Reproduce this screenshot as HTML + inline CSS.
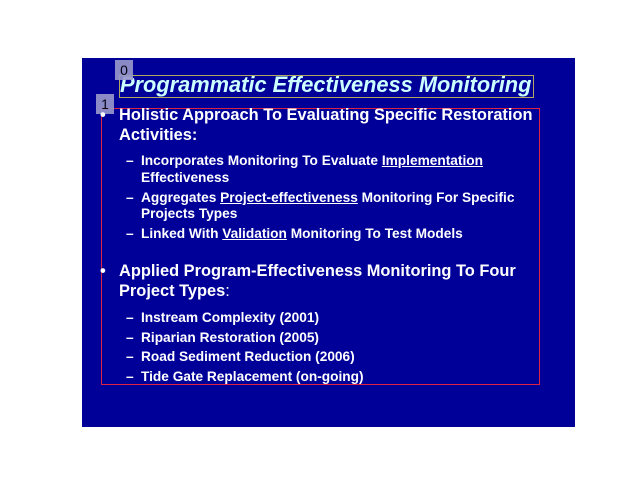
<!DOCTYPE html>
<html><head><meta charset="utf-8"><style>
body{margin:0;width:640px;height:480px;background:#fff;position:relative;overflow:hidden;font-family:"Liberation Sans",sans-serif}
#slide{position:absolute;left:82px;top:58px;width:493px;height:369px;background:#000099}
.t{position:absolute;white-space:nowrap;color:#fff;font-weight:bold;line-height:1}
.m{font-size:16.4px}
.s{font-size:13.7px}
u{text-decoration:underline}
.box{position:absolute;box-sizing:border-box}
.lbl{position:absolute;background:#9999cc;color:#000;font-size:14px;text-align:center;line-height:20px;opacity:.9}
</style></head><body>
<div id="slide"></div>
<div class="t" style="left:120px;top:74px;font-size:21.8px;font-style:italic;color:#ccffff">Programmatic Effectiveness Monitoring</div>
<div class="box" style="left:119px;top:75px;width:415px;height:23px;border:1px solid #b0a860"></div>
<div class="box" style="left:101px;top:108px;width:439px;height:277px;border:1px solid #dd2244"></div>
<div class="lbl" style="left:115px;top:60px;width:18px;height:20px">0</div>
<div class="lbl" style="left:96px;top:94px;width:18px;height:20px">1</div>

<div class="t m" style="left:100px;top:107px">•</div>
<div class="t m" style="left:119px;top:107px">Holistic Approach To Evaluating Specific Restoration</div>
<div class="t m" style="left:119px;top:127px">Activities:</div>
<div class="t s" style="left:126px;top:154px">–</div>
<div class="t s" style="left:141px;top:154px">Incorporates Monitoring To Evaluate <u>Implementation</u></div>
<div class="t s" style="left:141px;top:171px">Effectiveness</div>
<div class="t s" style="left:126px;top:191px">–</div>
<div class="t s" style="left:141px;top:191px">Aggregates <u>Project-effectiveness</u> Monitoring For Specific</div>
<div class="t s" style="left:141px;top:207px">Projects Types</div>
<div class="t s" style="left:126px;top:227px">–</div>
<div class="t s" style="left:141px;top:227px">Linked With <u>Validation</u> Monitoring To Test Models</div>

<div class="t m" style="left:100px;top:263px">•</div>
<div class="t m" style="left:119px;top:263px">Applied Program-Effectiveness Monitoring To Four</div>
<div class="t m" style="left:119px;top:283px">Project Types<span style="font-weight:normal">:</span></div>
<div class="t s" style="left:126px;top:311px">–</div>
<div class="t s" style="left:141px;top:311px">Instream Complexity (2001)</div>
<div class="t s" style="left:126px;top:331px">–</div>
<div class="t s" style="left:141px;top:331px">Riparian Restoration (2005)</div>
<div class="t s" style="left:126px;top:350px">–</div>
<div class="t s" style="left:141px;top:350px">Road Sediment Reduction (2006)</div>
<div class="t s" style="left:126px;top:370px">–</div>
<div class="t s" style="left:141px;top:370px">Tide Gate Replacement (on-going)</div>
</body></html>
